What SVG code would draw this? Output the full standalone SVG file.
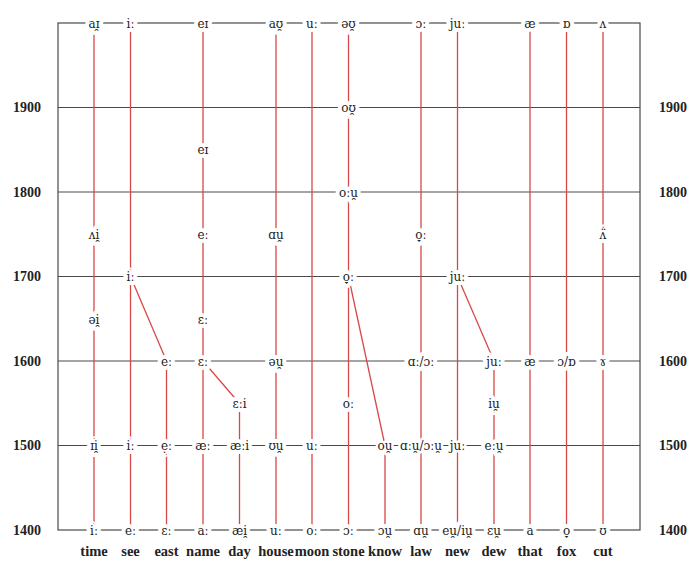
<svg xmlns="http://www.w3.org/2000/svg" width="700" height="572" viewBox="0 0 700 572">
<style>
.g{stroke:#4a4a4a;stroke-width:1.2;fill:none}
.r{stroke:#d94848;stroke-width:1.3;fill:none}
.l{font-family:"DejaVu Serif",serif;font-size:12px;fill:#222;stroke:#fff;stroke-width:8;paint-order:stroke;stroke-linejoin:round;text-anchor:middle}
.t{stroke-width:5}
.y{font-family:"Liberation Serif",serif;font-size:14px;font-weight:bold;fill:#222;text-anchor:middle}
.w{font-family:"Liberation Serif",serif;font-size:14.5px;font-weight:bold;fill:#222;text-anchor:middle}
</style>
<rect width="700" height="572" fill="#fff"/>
<g id="grid">
<rect class="g" x="58" y="23" width="582" height="507"/>
<line class="g" x1="58" y1="107.5" x2="640" y2="107.5"/>
<line class="g" x1="58" y1="192" x2="640" y2="192"/>
<line class="g" x1="58" y1="276.5" x2="640" y2="276.5"/>
<line class="g" x1="58" y1="361" x2="640" y2="361"/>
<line class="g" x1="58" y1="445.5" x2="640" y2="445.5"/>
</g>
<g id="years">
<text class="y" x="27" y="112">1900</text><text class="y" x="673" y="112">1900</text>
<text class="y" x="27" y="197">1800</text><text class="y" x="673" y="197">1800</text>
<text class="y" x="27" y="281">1700</text><text class="y" x="673" y="281">1700</text>
<text class="y" x="27" y="366">1600</text><text class="y" x="673" y="366">1600</text>
<text class="y" x="27" y="450">1500</text><text class="y" x="673" y="450">1500</text>
<text class="y" x="27" y="535">1400</text><text class="y" x="673" y="535">1400</text>
</g>
<g id="connectors">
<line class="r" x1="94" y1="23" x2="94" y2="530"/>
<line class="r" x1="130.5" y1="23" x2="130.5" y2="530"/>
<line class="r" x1="166.5" y1="361" x2="166.5" y2="530"/>
<line class="r" x1="166.5" y1="361" x2="130.5" y2="276.5"/>
<line class="r" x1="203" y1="23" x2="203" y2="530"/>
<line class="r" x1="239.5" y1="403.5" x2="239.5" y2="530"/>
<line class="r" x1="239.5" y1="403.5" x2="203" y2="361"/>
<line class="r" x1="276" y1="23" x2="276" y2="530"/>
<line class="r" x1="312" y1="23" x2="312" y2="530"/>
<line class="r" x1="348.5" y1="23" x2="348.5" y2="530"/>
<line class="r" x1="385" y1="445.5" x2="385" y2="530"/>
<line class="r" x1="385" y1="445.5" x2="348.5" y2="276.5"/>
<line class="r" x1="421" y1="23" x2="421" y2="530"/>
<line class="r" x1="457.5" y1="23" x2="457.5" y2="530"/>
<line class="r" x1="494" y1="361" x2="494" y2="530"/>
<line class="r" x1="494" y1="361" x2="457.5" y2="276.5"/>
<line class="r" x1="530" y1="23" x2="530" y2="530"/>
<line class="r" x1="566.5" y1="23" x2="566.5" y2="530"/>
<line class="r" x1="603" y1="23" x2="603" y2="530"/>
</g>
<g id="time"><text class="l" x="94" y="27.5">aɪ̯</text><text class="l" x="94" y="238.5">ʌi̯</text><text class="l" x="94" y="323.5">əi̯</text><text class="l" x="94" y="450">ɪi̯</text><text class="l" x="94" y="534.5">iː</text></g>
<g id="see"><text class="l" x="130.5" y="27.5">iː</text><text class="l" x="130.5" y="281">iː</text><text class="l" x="130.5" y="450">iː</text><text class="l" x="130.5" y="534.5">eː</text></g>
<g id="east"><text class="l" x="166.5" y="365.5">eː</text><text class="l" x="166.5" y="450">ẹː</text><text class="l" x="166.5" y="534.5">ɛː</text></g>
<g id="name"><text class="l" x="203" y="27.5">eɪ</text><text class="l" x="203" y="154">eɪ</text><text class="l" x="203" y="238.5">eː</text><text class="l" x="203" y="323.5">ɛː</text><text class="l" x="203" y="365.5">ɛː</text><text class="l" x="203" y="450">æː</text><text class="l" x="203" y="534.5">aː</text></g>
<g id="day"><text class="l" x="239.5" y="408">ɛːi</text><text class="l" x="239.5" y="450">æːi</text><text class="l" x="239.5" y="534.5">æi̯</text></g>
<g id="house"><text class="l" x="276" y="27.5">aʊ̯</text><text class="l" x="276" y="238.5">ɑu̯</text><text class="l" x="276" y="365.5">əu̯</text><text class="l" x="276" y="450">ʊu̯</text><text class="l" x="276" y="534.5">uː</text></g>
<g id="moon"><text class="l" x="312" y="27.5">uː</text><text class="l" x="312" y="450">uː</text><text class="l" x="312" y="534.5">oː</text></g>
<g id="stone"><text class="l" x="348.5" y="27.5">əʊ̯</text><text class="l" x="348.5" y="112">oʊ̯</text><text class="l" x="348.5" y="196.5">oːu̯</text><text class="l" x="348.5" y="281">o̞ː</text><text class="l" x="348.5" y="408">oː</text><text class="l" x="348.5" y="534.5">ɔː</text></g>
<g id="know"><text class="l t" x="385" y="450">ou̯</text><text class="l" x="385" y="534.5">ɔu̯</text></g>
<g id="law"><text class="l" x="421" y="27.5">ɔː</text><text class="l" x="421" y="238.5">o̞ː</text><text class="l" x="421" y="365.5">ɑː/ɔː</text><text class="l t" x="421" y="450">ɑːu̯/ɔːu̯</text><text class="l" x="421" y="534.5">ɑu̯</text></g>
<g id="new"><text class="l" x="457.5" y="27.5">juː</text><text class="l" x="457.5" y="281">juː</text><text class="l t" x="457.5" y="450">juː</text><text class="l" x="457.5" y="534.5">eu̯/iu̯</text></g>
<g id="dew"><text class="l" x="494" y="365.5">juː</text><text class="l" x="494" y="408">iu̯</text><text class="l" x="494" y="450">eːu̯</text><text class="l" x="494" y="534.5">ɛu̯</text></g>
<g id="that"><text class="l" x="530" y="27.5">æ</text><text class="l" x="530" y="365.5">æ</text><text class="l" x="530" y="534.5">a</text></g>
<g id="fox"><text class="l" x="566.5" y="27.5">ɒ</text><text class="l" x="566.5" y="365.5">ɔ/ɒ</text><text class="l" x="566.5" y="534.5">o̞</text></g>
<g id="cut"><text class="l" x="603" y="27.5">ʌ</text><text class="l" x="603" y="238.5">ʌ̈</text><text class="l" x="603" y="365.5">ɤ</text><text class="l" x="603" y="534.5">ʊ</text></g>
<g id="words">
<text class="w" x="94" y="556">time</text><text class="w" x="130.5" y="556">see</text><text class="w" x="166.5" y="556">east</text><text class="w" x="203" y="556">name</text><text class="w" x="239.5" y="556">day</text><text class="w" x="276" y="556">house</text><text class="w" x="312" y="556">moon</text><text class="w" x="348.5" y="556">stone</text><text class="w" x="385" y="556">know</text><text class="w" x="421" y="556">law</text><text class="w" x="457.5" y="556">new</text><text class="w" x="494" y="556">dew</text><text class="w" x="530" y="556">that</text><text class="w" x="566.5" y="556">fox</text><text class="w" x="603" y="556">cut</text>
</g>
</svg>
